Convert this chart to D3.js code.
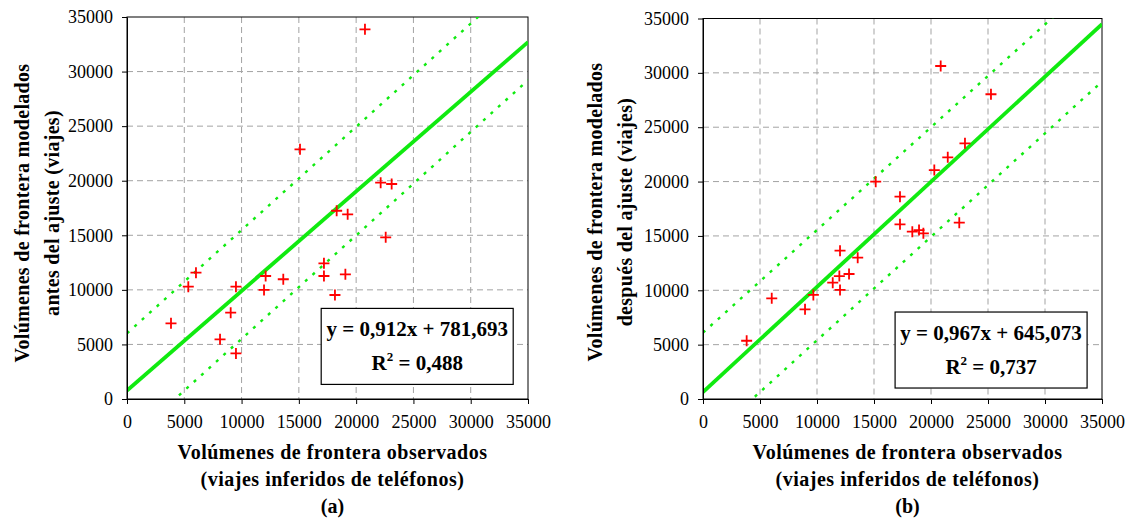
<!DOCTYPE html>
<html>
<head>
<meta charset="utf-8">
<script src="https://cdn.jsdelivr.net/npm/d3@7"></script>
<style>
  html, body { margin: 0; padding: 0; background: #fff; }
  svg text { font-family: "Liberation Serif", "Times New Roman", serif; fill: #000; }
</style>
</head>
<body>
<svg id="chart" width="1130" height="524"></svg>
<script>
// Observed vs modelled boundary volumes, before (a) and after (b) adjustment
const tickValues = [0, 5000, 10000, 15000, 20000, 25000, 30000, 35000];
const tickLabels = ["0", "5000", "10000", "15000", "20000", "25000", "30000", "35000"];

// Panel (a): before adjustment
const observedA = [20770, 15100, 22140, 23100, 18300, 19260, 22580, 17190, 17190, 19060, 18150,
                   13640, 12100, 11960, 9510, 9050, 8120, 9510, 6020, 5350, 3840];
const modelledA = [33870, 22880, 19820, 19700, 17250, 16920, 14810, 12430, 11270, 11420, 9530,
                   10970, 11270, 9990, 10290, 7910, 5470, 4180, 11570, 10290, 6930];
const fitA = { slope: 0.912, intercept: 781.693, r2: "0,488", label: "y = 0,912x + 781,693" };
const bandUpperA = { slope: 0.946, intercept: 6020 };
const bandLowerA = { slope: 0.948, intercept: -3970 };

// Panel (b): after adjustment
const observedB = [20850, 25260, 22980, 21470, 20290, 15150, 17280, 17280, 22480, 18360, 18950,
                   19330, 12020, 13570, 12810, 11960, 11380, 12020, 9680, 6030, 8950, 3830];
const modelledB = [30630, 28030, 23520, 22230, 21060, 19990, 18610, 16070, 16220, 15390, 15540,
                   15240, 13640, 13000, 11500, 11310, 10700, 10030, 9570, 9260, 8250, 5360];
const fitB = { slope: 0.967, intercept: 645.073, r2: "0,737", label: "y = 0,967x + 645,073" };
const bandUpperB = { slope: 0.945, intercept: 6100 };
const bandLowerB = { slope: 0.952, intercept: -4120 };

const yTitleA = ["Volúmenes de frontera modelados", "antes del ajuste (viajes)"];
const yTitleB = ["Volúmenes de frontera modelados", "después del ajuste (viajes)"];
const xTitle = ["Volúmenes de frontera observados", "(viajes inferidos de teléfonos)"];

const GREEN = "#10ea10";
const svg = d3.select("#chart");

function panel(cfg) {
  const { left, right, top, bottom } = cfg.box;
  const x = d3.scaleLinear().domain([0, 35000]).range([left, right]);
  const y = d3.scaleLinear().domain([0, 35000]).range([bottom, top]);
  const g = svg.append("g");
  const clipId = "clip-" + cfg.id;
  svg.append("clipPath").attr("id", clipId)
    .append("rect").attr("x", left).attr("y", top).attr("width", right - left).attr("height", bottom - top);

  // dashed grid
  const inner = tickValues.slice(1, -1);
  g.append("g").selectAll("line.vx").data(inner).join("line")
    .attr("x1", d => x(d)).attr("x2", d => x(d)).attr("y1", top).attr("y2", bottom)
    .attr("stroke", "#a3a3a3").attr("stroke-width", 1).attr("stroke-dasharray", "6,4");
  g.append("g").selectAll("line.hy").data(inner).join("line")
    .attr("y1", d => y(d)).attr("y2", d => y(d)).attr("x1", left).attr("x2", right)
    .attr("stroke", "#a3a3a3").attr("stroke-width", 1).attr("stroke-dasharray", "6,4");

  // frame
  g.append("rect").attr("x", left).attr("y", top).attr("width", right - left).attr("height", bottom - top)
    .attr("fill", "none").attr("stroke", "#000").attr("stroke-width", 1);

  const lines = g.append("g").attr("clip-path", `url(#${clipId})`);
  const lineOf = p => [[0, p.intercept], [35000, p.slope * 35000 + p.intercept]];
  const path = d3.line().x(d => x(d[0])).y(d => y(d[1]));

  // band lines (dotted)
  [cfg.upper, cfg.lower].forEach(b => {
    lines.append("path").attr("d", path(lineOf(b)))
      .attr("fill", "none").attr("stroke", GREEN).attr("stroke-width", 2.4)
      .attr("stroke-dasharray", "3,7");
  });
  // regression line
  lines.append("path").attr("d", path(lineOf(cfg.fit)))
    .attr("fill", "none").attr("stroke", GREEN).attr("stroke-width", 3.8);

  // points as red crosses
  const pts = cfg.xs.map((v, i) => [v, cfg.ys[i]]);
  const s = 5.5;
  g.append("g").selectAll("path.pt").data(pts).join("path")
    .attr("d", d => `M${x(d[0]) - s},${y(d[1])}H${x(d[0]) + s}M${x(d[0])},${y(d[1]) - s}V${y(d[1]) + s}`)
    .attr("stroke", "#ff0000").attr("stroke-width", 1.8).attr("fill", "none");

  // axes
  const xAxis = d3.axisBottom(x).tickValues(tickValues).tickFormat((d, i) => tickLabels[i])
    .tickSizeInner(5).tickSizeOuter(0).tickPadding(11);
  const yAxis = d3.axisLeft(y).tickValues(tickValues).tickFormat((d, i) => tickLabels[i])
    .tickSizeInner(5).tickSizeOuter(0).tickPadding(9);
  const gx = g.append("g").attr("transform", `translate(0,${bottom})`).call(xAxis);
  const gy = g.append("g").attr("transform", `translate(${left},0)`).call(yAxis);
  [gx, gy].forEach(a => {
    a.select(".domain").attr("stroke", "#000");
    a.selectAll(".tick line").attr("stroke", "#000");
    a.selectAll("text").attr("font-size", 18);
  });

  // equation box
  const bx = x(cfg.eq[0]), by = y(cfg.eq[1]);
  const bw = cfg.eq[2], bh = cfg.eq[3];
  g.append("rect").attr("x", bx).attr("y", by).attr("width", bw).attr("height", bh)
    .attr("fill", "#fff").attr("stroke", "#000").attr("stroke-width", 1.2);
  const cx = bx + bw / 2;
  g.append("text").attr("x", cx).attr("y", by + 28).attr("text-anchor", "middle")
    .attr("font-size", 21).attr("font-weight", "bold").text(cfg.fit.label);
  const r = g.append("text").attr("x", cx).attr("y", by + 62).attr("text-anchor", "middle")
    .attr("font-size", 21).attr("font-weight", "bold");
  r.append("tspan").text("R");
  r.append("tspan").attr("dy", -9).attr("font-size", 13).text("2");
  r.append("tspan").attr("dy", 9).text(" = " + cfg.fit.r2);

  // axis titles
  const midX = (left + right) / 2 + 5;
  xTitle.forEach((t, i) => {
    g.append("text").attr("x", midX).attr("y", bottom + 60 + i * 27).attr("text-anchor", "middle")
      .attr("font-size", 20).attr("font-weight", "bold").attr("letter-spacing", 0.5).text(t);
  });
  g.append("text").attr("x", midX).attr("y", bottom + 114).attr("text-anchor", "middle")
    .attr("font-size", 20).attr("font-weight", "bold").text(cfg.tag);
  cfg.yTitle.forEach((t, i) => {
    g.append("text").attr("transform", `translate(${cfg.yTitleX + i * 30},${cfg.yTitleY}) rotate(-90)`)
      .attr("text-anchor", "middle").attr("font-size", 20).attr("font-weight", "bold")
      .attr("letter-spacing", 0.3).text(t);
  });
}

panel({
  id: "a", box: { left: 127, right: 528, top: 17, bottom: 399 },
  xs: observedA, ys: modelledA, fit: fitA, upper: bandUpperA, lower: bandLowerA,
  eq: [16950, 8300, 192, 76], yTitle: yTitleA, yTitleX: 29, yTitleY: 213, tag: "(a)"
});
panel({
  id: "b", box: { left: 703, right: 1102, top: 18.5, bottom: 399 },
  xs: observedB, ys: modelledB, fit: fitB, upper: bandUpperB, lower: bandLowerB,
  eq: [16850, 8000, 192, 76], yTitle: yTitleB, yTitleX: 602, yTitleY: 212, tag: "(b)"
});
</script>
</body>
</html>
